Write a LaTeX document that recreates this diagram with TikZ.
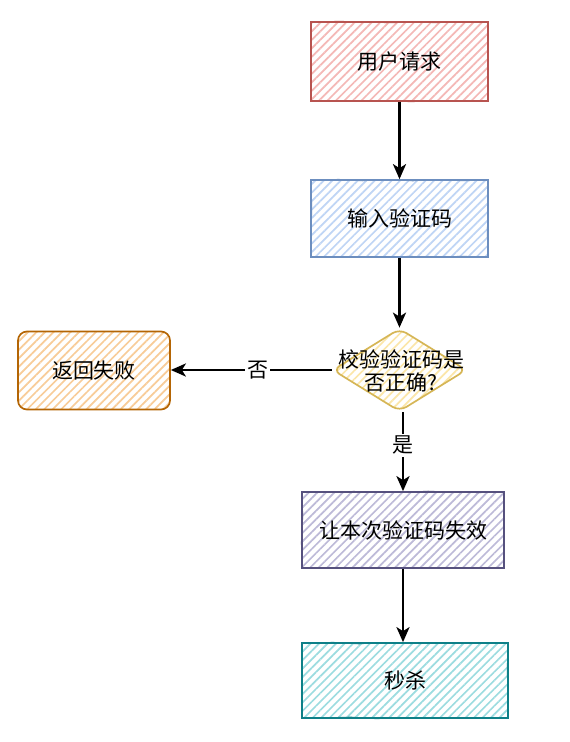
\documentclass[tikz,border=0pt]{standalone}
\usepackage{fontspec}
\setmainfont{Noto Sans CJK SC}
\usetikzlibrary{patterns.meta,arrows.meta,shapes.geometric,decorations.pathmorphing}
\definecolor{redS}{HTML}{B85450}\definecolor{redF}{HTML}{F4B8B6}
\definecolor{blueS}{HTML}{6C8EBF}\definecolor{blueF}{HTML}{BFD5F5}
\definecolor{oraS}{HTML}{B46504}\definecolor{oraF}{HTML}{F8CC98}
\definecolor{yelS}{HTML}{D6B656}\definecolor{yelF}{HTML}{FBE6A8}
\definecolor{purS}{HTML}{56517E}\definecolor{purF}{HTML}{BDBAD8}
\definecolor{tealS}{HTML}{0E8088}\definecolor{tealF}{HTML}{9CDCE0}
\tikzset{
  sketchbase/.style={line width=1.7pt, inner sep=0pt, font=\fontsize{21}{25}\selectfont,
    pattern={Lines[angle=45,distance=6pt,line width=1.7pt]}},
  boxst/.style={sketchbase, rectangle,
    postaction={draw, line width=0.7pt, decorate, decoration={random steps,segment length=25pt,amplitude=1pt}}},
  arr/.style={line width=2.8pt, -{Stealth[length=15pt,width=13pt,inset=4pt]}},
  lbl/.style={fill=white, inner sep=2pt, font=\fontsize{21}{25}\selectfont}
}
\begin{document}
\begin{tikzpicture}[x=1pt,y={(0pt,-1pt)}]
\useasboundingbox[fill=white] (0,0) rectangle (570,742);
\node[boxst, draw=redS, pattern color=redF, minimum width=177pt, minimum height=79pt] (req) at (399.5,61.5) {用户请求};
\node[boxst, draw=blueS, pattern color=blueF, minimum width=177pt, minimum height=77pt] (inp) at (399.5,218.5) {输入验证码};
\node[sketchbase, draw=yelS, pattern color=yelF, diamond, aspect=1.65, minimum width=134pt, minimum height=83pt, rounded corners=8pt] (chk) at (399.5,370) {};
\node[font=\fontsize{21}{23}\selectfont, align=center] (chkt) at (401,371) {校验验证码是\\否正确?};
\node[sketchbase, draw=oraS, pattern color=oraF, rounded corners=9pt, minimum width=152pt, minimum height=78pt] (fail) at (94,370.5) {返回失败};
\node[boxst, draw=purS, pattern color=purF, minimum width=202pt, minimum height=76pt] (inv) at (403,530) {让本次验证码失效};
\node[boxst, draw=tealS, pattern color=tealF, minimum width=206pt, minimum height=75pt] (kill) at (405,680.5) {秒杀};
\draw[arr] (req.south) -- (inp.north);
\draw[arr] (inp.south) -- (chk.north);
\draw[arr] (chk.west) -- node[lbl, pos=0.46] {否} (chk.west -| fail.east);
\draw[arr] (chk.south -| inv.north) -- node[lbl, pos=0.42] {是} (inv.north);
\draw[arr] (inv.south) -- (inv.south |- kill.north);
\end{tikzpicture}
\end{document}
